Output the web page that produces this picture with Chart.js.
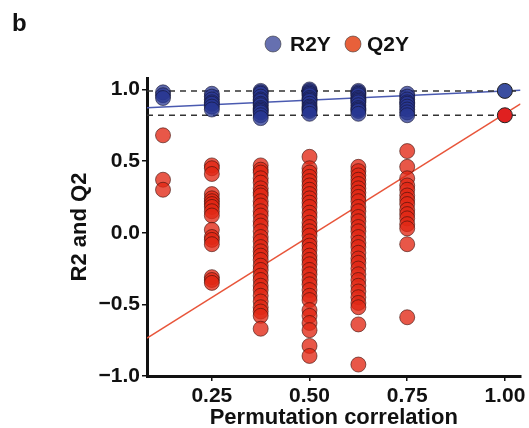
<!DOCTYPE html>
<html>
<head>
<meta charset="utf-8">
<script src="https://cdn.jsdelivr.net/npm/chart.js@4.4.1/dist/chart.umd.min.js"></script>
<style>
  html, body { margin: 0; padding: 0; background: #fff; }
  #wrap { width: 529px; height: 428px; position: relative; }
</style>
</head>
<body>
<div id="wrap"><canvas id="chart"></canvas></div>
<script>
// Permutation test: correlation levels and the R2Y / Q2Y values at each level
const corrLevels = [0.125, 0.25, 0.375, 0.5, 0.625, 0.75];

const r2yByLevel = [
    [0.98, 0.96, 0.94],
    [0.97, 0.95, 0.93, 0.91, 0.90, 0.88, 0.86],
    [0.99, 0.98, 0.97, 0.95, 0.93, 0.92, 0.90, 0.89, 0.87, 0.86, 0.85, 0.84, 0.82, 0.80],
    [1.00, 0.99, 0.98, 0.97, 0.96, 0.94, 0.93, 0.92, 0.90, 0.88, 0.87, 0.86, 0.85, 0.83],
    [0.99, 0.98, 0.97, 0.96, 0.94, 0.93, 0.92, 0.91, 0.89, 0.87, 0.86, 0.85, 0.83],
    [0.97, 0.95, 0.93, 0.91, 0.90, 0.88, 0.86, 0.84, 0.82]
];

const q2yByLevel = [
    [0.68, 0.37, 0.30],
    [0.47, 0.45, 0.41, 0.27, 0.24, 0.22, 0.20, 0.18, 0.15, 0.12, 0.02, -0.03, -0.05, -0.08, -0.31, -0.33, -0.35],
    [0.47, 0.44, 0.42, 0.38, 0.35, 0.31, 0.28, 0.26, 0.22, 0.19, 0.15, 0.12, 0.08, 0.05, 0.01, -0.03, -0.06,
     -0.10, -0.13, -0.16, -0.19, -0.23, -0.26, -0.30, -0.33, -0.37, -0.40, -0.44, -0.48, -0.52, -0.55, -0.58, -0.67],
    [0.53, 0.45, 0.42, 0.39, 0.36, 0.33, 0.30, 0.27, 0.24, 0.21, 0.18, 0.14, 0.11, 0.07, 0.04, 0.01, -0.02, -0.06,
     -0.09, -0.12, -0.16, -0.19, -0.22, -0.26, -0.29, -0.33, -0.36, -0.40, -0.44, -0.47, -0.54, -0.58, -0.63, -0.68, -0.79, -0.86],
    [0.46, 0.43, 0.40, 0.37, 0.34, 0.31, 0.28, 0.25, 0.22, 0.18, 0.15, 0.11, 0.08, 0.04, 0.01, -0.03, -0.07, -0.10,
     -0.14, -0.18, -0.21, -0.25, -0.29, -0.33, -0.37, -0.41, -0.45, -0.49, -0.52, -0.64, -0.92],
    [0.57, 0.46, 0.38, 0.33, 0.30, 0.26, 0.23, 0.20, 0.16, 0.13, 0.10, 0.06, 0.03, -0.08, -0.59]
];

// original (unpermuted) model
const originalCorr = 1.0;
const originalR2Y = 0.99;
const originalQ2Y = 0.82;

// regression lines and reference lines, read at the two x-axis ends
const lineX = [0.084, 1.04];
const r2yFit = [0.872, 0.995];
const q2yFit = [-0.735, 0.90];
const refR2Y = [0.99, 0.99];
const refQ2Y = [0.82, 0.82];

const xTicks = [0.25, 0.5, 0.75, 1.0];
const xTickLabels = ['0.25', '0.50', '0.75', '1.00'];
const yTicks = [-1.0, -0.5, 0.0, 0.5, 1.0];
const yTickLabels = ['\u22121.0', '\u22120.5', '0.0', '0.5', '1.0'];

const FONT = "'Liberation Sans', Arial, sans-serif";
const BLUE = 'rgba(40, 55, 145, 0.75)';
const RED = 'rgba(226, 40, 20, 0.78)';

function toPoints(levels, values) {
    return levels.flatMap((x, i) => values[i].map(v => ({ x: x, y: v })));
}
function toLine(ys) {
    return lineX.map((x, i) => ({ x: x, y: ys[i] }));
}

// panel letter and legend
const decorations = {
    id: 'decorations',
    afterDraw(chart) {
        const ctx = chart.ctx;
        ctx.save();
        ctx.fillStyle = '#111';
        ctx.font = 'bold 24px ' + FONT;
        ctx.textBaseline = 'alphabetic';
        ctx.fillText('b', 12, 31);

        const items = [
            { label: 'R2Y', color: 'rgb(102, 112, 176)', cx: 273, tx: 290 },
            { label: 'Q2Y', color: 'rgb(232, 96, 58)', cx: 353, tx: 367 }
        ];
        ctx.font = 'bold 21px ' + FONT;
        ctx.textBaseline = 'middle';
        items.forEach(it => {
            ctx.beginPath();
            ctx.arc(it.cx, 44, 8, 0, Math.PI * 2);
            ctx.fillStyle = it.color;
            ctx.fill();
            ctx.lineWidth = 1;
            ctx.strokeStyle = 'rgba(60, 60, 60, 0.6)';
            ctx.stroke();
            ctx.fillStyle = '#111';
            ctx.fillText(it.label, it.tx, 45);
        });
        ctx.restore();
    }
};

const lineStyle = { showLine: true, pointRadius: 0, fill: false, order: 5 };

new Chart(document.getElementById('chart'), {
    type: 'scatter',
    data: {
        datasets: [
            Object.assign({ label: 'refR2Y', data: toLine(refR2Y), borderColor: '#333',
                borderWidth: 1.5, borderDash: [6, 5] }, lineStyle),
            Object.assign({ label: 'refQ2Y', data: toLine(refQ2Y), borderColor: '#333',
                borderWidth: 1.5, borderDash: [6, 5] }, lineStyle),
            Object.assign({ label: 'fitR2Y', data: toLine(r2yFit), borderColor: '#4a5ab0',
                borderWidth: 1.5 }, lineStyle),
            Object.assign({ label: 'fitQ2Y', data: toLine(q2yFit), borderColor: '#e8553a',
                borderWidth: 1.5 }, lineStyle),
            {
                label: 'R2Y',
                data: toPoints(corrLevels, r2yByLevel),
                backgroundColor: BLUE,
                borderColor: 'rgba(20, 20, 50, 0.6)',
                borderWidth: 1,
                pointRadius: 7.5,
                order: 2
            },
            {
                label: 'Q2Y',
                data: toPoints(corrLevels, q2yByLevel),
                backgroundColor: RED,
                borderColor: 'rgba(60, 15, 10, 0.6)',
                borderWidth: 1,
                pointRadius: 7.5,
                order: 2
            },
            {
                label: 'R2Y original',
                data: [{ x: originalCorr, y: originalR2Y }],
                backgroundColor: '#3a4ea0',
                borderColor: '#222',
                borderWidth: 1,
                pointRadius: 7.5,
                order: 1
            },
            {
                label: 'Q2Y original',
                data: [{ x: originalCorr, y: originalQ2Y }],
                backgroundColor: '#e02020',
                borderColor: '#222',
                borderWidth: 1,
                pointRadius: 7.5,
                order: 1
            }
        ]
    },
    options: {
        responsive: true,
        maintainAspectRatio: false,
        animation: false,
        layout: { padding: { left: 0, right: 7, top: 78, bottom: 0 } },
        plugins: {
            legend: { display: false },
            tooltip: { enabled: false }
        },
        scales: {
            x: {
                type: 'linear',
                min: lineX[0],
                max: lineX[1],
                afterFit: s => { s.height = 52; },
                afterBuildTicks: s => { s.ticks = xTicks.map(v => ({ value: v })); },
                ticks: {
                    color: '#111',
                    font: { family: FONT, size: 21, weight: 'bold' },
                    padding: 3,
                    callback: v => xTickLabels[xTicks.indexOf(v)]
                },
                grid: { drawOnChartArea: false, drawTicks: true, tickLength: 5, color: '#111', lineWidth: 1.5 },
                border: { display: true, color: '#111', width: 3 },
                title: {
                    display: true,
                    text: 'Permutation correlation',
                    color: '#111',
                    font: { family: FONT, size: 22, weight: 'bold', lineHeight: 1 },
                    padding: { top: 0, bottom: -1 }
                }
            },
            y: {
                type: 'linear',
                min: -1.0,
                max: 1.08,
                afterFit: s => { s.width = 147; },
                afterBuildTicks: s => { s.ticks = yTicks.map(v => ({ value: v })); },
                ticks: {
                    color: '#111',
                    font: { family: FONT, size: 21, weight: 'bold' },
                    padding: 2,
                    callback: v => yTickLabels[yTicks.indexOf(v)]
                },
                grid: { drawOnChartArea: false, drawTicks: true, tickLength: 5, color: '#111', lineWidth: 1.5 },
                border: { display: true, color: '#111', width: 3 },
                title: {
                    display: true,
                    text: 'R2 and Q2',
                    color: '#111',
                    font: { family: FONT, size: 22, weight: 'bold' },
                    padding: { top: 67, bottom: 0 }
                }
            }
        }
    },
    plugins: [decorations]
});
</script>
</body>
</html>
